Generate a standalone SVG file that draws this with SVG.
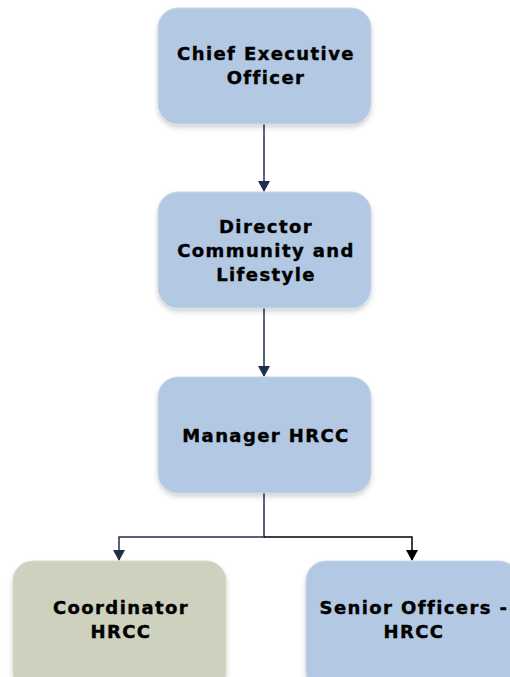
<svg xmlns="http://www.w3.org/2000/svg" width="510" height="677" viewBox="0 0 510 677">
  <style>
    .box { fill: #b3c8e3; stroke: #c9d6e8; stroke-width: 1; filter: url(#shadow); }
    .box.olive { fill: #cdd1bd; stroke: #d6d9ca; }
    .label { font-family: "DejaVu Sans", Verdana, sans-serif; font-weight: bold; font-size: 18px; fill: #000; stroke: #000; stroke-width: 0.4; text-anchor: middle; letter-spacing: 1.4px; }
    .link { fill: none; stroke-width: 1.5; }
  </style>
  <defs>
    <filter id="shadow" x="-10%" y="-10%" width="120%" height="125%">
      <feDropShadow dx="0" dy="3" stdDeviation="2.5" flood-color="#000" flood-opacity="0.18"/>
    </filter>
    <marker id="arrowNavy" markerWidth="12" markerHeight="12" refX="10" refY="6" orient="auto" markerUnits="userSpaceOnUse">
      <path d="M0,0 L11,6 L0,12 Z" fill="#1f2f4d"/>
    </marker>
    <marker id="arrowBlack" markerWidth="12" markerHeight="12" refX="10" refY="6" orient="auto" markerUnits="userSpaceOnUse">
      <path d="M0,0 L11,6 L0,12 Z" fill="#000"/>
    </marker>
  </defs>

  <rect width="510" height="677" fill="#fff"/>

  <g id="connectors">
    <path class="link" d="M264,124 V191" stroke="#1f2f4d" marker-end="url(#arrowNavy)"/>
    <path class="link" d="M264,308 V376" stroke="#1f2f4d" marker-end="url(#arrowNavy)"/>
    <path class="link" d="M264,493 V537 H119 V560" stroke="#1f2f4d" marker-end="url(#arrowNavy)"/>
    <path class="link" d="M264,537 H412 V560" stroke="#000" marker-end="url(#arrowBlack)"/>
  </g>

  <g id="ceo">
    <rect class="box" x="158" y="8" width="213" height="116" rx="20"/>
    <text class="label" x="266" y="60">Chief Executive</text>
    <text class="label" x="266" y="84">Officer</text>
  </g>

  <g id="director">
    <rect class="box" x="158" y="192" width="213" height="116" rx="20"/>
    <text class="label" x="266" y="233">Director</text>
    <text class="label" x="266" y="257">Community and</text>
    <text class="label" x="266" y="281">Lifestyle</text>
  </g>

  <g id="manager">
    <rect class="box" x="158" y="377" width="213" height="116" rx="20"/>
    <text class="label" x="266" y="442">Manager HRCC</text>
  </g>

  <g id="coordinator">
    <rect class="box olive" x="13" y="561" width="213" height="130" rx="20"/>
    <text class="label" x="121" y="614">Coordinator</text>
    <text class="label" x="121" y="638">HRCC</text>
  </g>

  <g id="senior-officers">
    <rect class="box" x="306" y="561" width="213" height="130" rx="20"/>
    <text class="label" x="414" y="614">Senior Officers -</text>
    <text class="label" x="414" y="638">HRCC</text>
  </g>
</svg>
